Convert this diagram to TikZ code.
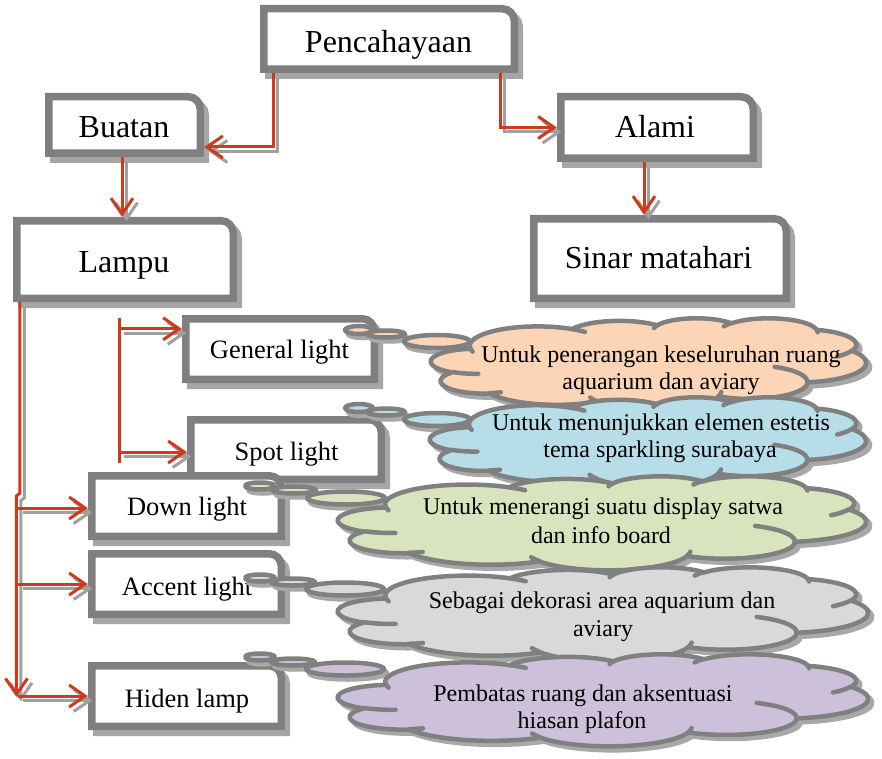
\documentclass[tikz,border=0pt]{standalone}
\usepackage{fontspec}
\setmainfont{Liberation Serif}
\usetikzlibrary{arrows.meta}

\definecolor{linkred}{HTML}{CF3A1B}
\definecolor{boxgray}{HTML}{7F7F7F}
\definecolor{boxshade}{HTML}{A6A6A6}
\definecolor{linkshade}{HTML}{A0A0A0}
\definecolor{cloudline}{HTML}{808080}
\definecolor{cloudshade}{HTML}{A8A8A8}
\definecolor{peach}{HTML}{FBD5B5}
\definecolor{skyblue}{HTML}{B7DEE8}
\definecolor{leaf}{HTML}{D7E4BD}
\definecolor{silver}{HTML}{D9D9D9}
\definecolor{lilac}{HTML}{CCC0DA}

% One elliptic arc of the cloud outline: radii and the start/sweep angles
% (measured as ray angles) are turned into a style holding parametric angles.
\newcommand\mkcloudarc[5]{%
  \pgfmathparse{atan2((#2)*sin(#4),(#3)*cos(#4))}\let\cldA\pgfmathresult
  \pgfmathparse{atan2((#2)*sin((#4)+(#5)),(#3)*cos((#4)+(#5)))}\let\cldB\pgfmathresult
  \pgfmathparse{(\cldA)+mod((\cldB)-(\cldA)+720,360)}\let\cldB\pgfmathresult
  \edef\cloudtmp{\noexpand\tikzset{#1/.style={start angle=\cldA, end angle=\cldB, x radius=#2, y radius=#3}}}%
  \cloudtmp}

\mkcloudarc{cloud arc 1}{6.753}{9.190}{-190.4875}{123.7805}
\mkcloudarc{cloud arc 2}{5.333}{7.267}{-144.1024}{89.9452}
\mkcloudarc{cloud arc 3}{4.365}{5.945}{-145.8079}{99.7230}
\mkcloudarc{cloud arc 4}{4.857}{6.595}{-130.9861}{117.2417}
\mkcloudarc{cloud arc 5}{5.333}{7.273}{-78.7089}{109.0269}
\mkcloudarc{cloud arc 6}{6.775}{9.220}{-46.2673}{130.2690}
\mkcloudarc{cloud arc 7}{5.785}{7.867}{0.6250}{114.0333}
\mkcloudarc{cloud arc 8}{6.752}{9.215}{22.4516}{115.1726}
\mkcloudarc{cloud arc 9}{7.720}{10.543}{66.2426}{75.7110}
\mkcloudarc{cloud arc 10}{4.360}{5.918}{-274.9421}{146.7356}
\mkcloudarc{cloud arc 11}{4.345}{5.945}{-246.8285}{152.5189}

\mkcloudarc{cloud vein 1}{4.345}{5.945}{86.7420}{26.4295}
\mkcloudarc{cloud vein 2}{4.360}{5.918}{73.6105}{11.4475}
\mkcloudarc{cloud vein 3}{6.752}{9.215}{137.6242}{14.0811}
\mkcloudarc{cloud vein 4}{6.752}{9.215}{6.4533}{15.9984}
\mkcloudarc{cloud vein 5}{5.785}{7.867}{-70.2924}{70.9174}
\mkcloudarc{cloud vein 6}{5.333}{7.273}{30.3180}{27.7515}
\mkcloudarc{cloud vein 7}{4.857}{6.595}{-13.7443}{14.8589}
\mkcloudarc{cloud vein 8}{4.857}{6.595}{-149.1815}{18.1954}
\mkcloudarc{cloud vein 9}{4.365}{5.945}{-163.4943}{19.0033}
\mkcloudarc{cloud vein 10}{6.753}{9.190}{-66.7070}{12.3194}
\mkcloudarc{cloud vein 11}{6.753}{9.190}{157.6544}{11.8582}

% cloud outline and inner strokes, in a 43.2 x 43.2 frame
\def\cloudoutline{(3.900,14.370) arc[cloud arc 1] arc[cloud arc 2] arc[cloud arc 3]
  arc[cloud arc 4] arc[cloud arc 5] arc[cloud arc 6] arc[cloud arc 7] arc[cloud arc 8]
  arc[cloud arc 9] arc[cloud arc 10] arc[cloud arc 11] -- cycle}
\def\cloudveins{(4.693,26.177) arc[cloud vein 1] (6.928,34.899) arc[cloud vein 2]
  (16.478,39.090) arc[cloud vein 3] (28.827,34.751) arc[cloud vein 4]
  (34.129,22.954) arc[cloud vein 5] (41.798,15.354) arc[cloud vein 6]
  (38.324,5.426) arc[cloud vein 7] (29.078,3.952) arc[cloud vein 8]
  (22.141,4.720) arc[cloud vein 9] (14.000,5.192) arc[cloud vein 10]
  (4.127,15.789) arc[cloud vein 11]}

\tikzset{
  boxframe/.style={fill=white, draw=boxgray, line width=7.5pt},
  boxfill/.style={fill=boxshade, draw=boxshade, line width=7.5pt},
  boxspot/.style={rectangle, inner sep=0pt, draw=none},
  link/.style={draw=linkred, line width=3pt},
  tip/.style={-{Straight Barb[length=16pt,width=22pt]}},
  cloudbody/.style={draw=cloudline, line width=4.5pt, line join=round},
  cloudshadow/.style={fill=cloudshade, draw=cloudshade, line width=4.5pt, line join=round},
  cloudvein/.style={draw=cloudline, line width=4.5pt, line cap=round},
  bigfont/.style={font=\fontsize{32}{38}\selectfont, inner sep=0pt},
  midfont/.style={font=\fontsize{26.5}{31}\selectfont, inner sep=0pt},
  cloudfont/.style={font=\fontsize{24}{27}\selectfont, inner sep=0pt},
}

% box with a rounded top-right corner and a drop shadow; #2..#5 = outer edges
\newcommand\roundbox[5]{%
  \begin{scope}[shift={(5,6)}]
    \path[boxfill] (#2+3.75,#5-3.75) -- (#2+3.75,#3+3.75) -- (#4-15.75,#3+3.75)
      arc[start angle=90,end angle=0,radius=12pt] -- (#4-3.75,#5-3.75) -- cycle;
  \end{scope}
  \path[boxframe] (#2+3.75,#5-3.75) -- (#2+3.75,#3+3.75) -- (#4-15.75,#3+3.75)
    arc[start angle=90,end angle=0,radius=12pt] -- (#4-3.75,#5-3.75) -- cycle;
  \node[boxspot, minimum width={#4-#2}, minimum height={#5-#3}] (#1) at ({(#2+#4)/2},{(#3+#5)/2}) {};}

% thought cloud: #1,#2 top-left corner, #3,#4 size, #5 fill
\newcommand\drawcloud[5]{%
  \pgfmathsetmacro\cloudsx{(#3)/43.2}%
  \pgfmathsetmacro\cloudsy{(#4)/43.2}%
  \begin{scope}[shift={(#1+4,#2+4)}, x=\cloudsx pt, y=-\cloudsy pt]
    \path[cloudshadow] \cloudoutline;
  \end{scope}
  \begin{scope}[shift={(#1,#2)}, x=\cloudsx pt, y=-\cloudsy pt]
    \path[cloudbody, fill=#5] \cloudoutline;
    \path[cloudvein] \cloudveins;
  \end{scope}}

% one bubble of a cloud's tail
\newcommand\bubble[5]{%
  \path[cloudshadow] (#1+3,#2+4) ellipse[x radius=#3, y radius=#4];
  \path[cloudbody, fill=#5] (#1,#2) ellipse[x radius=#3, y radius=#4];}

% all connectors, drawn in colour #1
\newcommand\linkset[1]{%
  \draw[link, draw=#1, tip] ([xshift=13.5pt]pen.south west) |- (buatin);
  \draw[link, draw=#1, tip] ([xshift=-18pt]pen.south east) |- (alam.west);
  \draw[link, draw=#1, tip] ([xshift=-2.5pt]buat.south) -- ([xshift=-2.5pt]buat.south |- lamp.north);
  \draw[link, draw=#1, tip] ([xshift=-13pt]alam.south) -- ([xshift=-13pt]alam.south |- sinar.north);
  \draw[link, draw=#1, tip] ([xshift=7pt]lamp.south west) -- ++(0,191) -- ++(-3.5,3) -- (trunkend);
  \draw[link, draw=#1, tip] (trunk |- downin) -- (downin);
  \draw[link, draw=#1, tip] (trunk |- acc.west) -- (acc.west);
  \draw[link, draw=#1, tip] (trunk |- hid.west) -- (hid.west);
  \draw[link, draw=#1, tip] (brtop |- genin) -- (genin);
  \draw[link, draw=#1, tip] (brtop |- spotin) -- (spotin);}

\begin{document}
\begin{tikzpicture}[x=1pt, y=-1pt]
  \fill[white] (0,0) rectangle (882,759);
  \useasboundingbox (0,0) rectangle (882,759);

  % boxes
  \roundbox{pen}{260}{5}{518}{73}
  \roundbox{buat}{45}{93}{204}{157}
  \roundbox{alam}{557}{93}{757}{162}
  \roundbox{lamp}{13}{217}{237}{302}
  \roundbox{sinar}{530}{215}{790}{302}
  \roundbox{gen}{182}{315}{378}{383}
  \roundbox{spot}{187}{416}{385}{483}
  \roundbox{down}{88}{472}{285}{540}
  \roundbox{acc}{88}{550}{285}{618}
  \roundbox{hid}{88}{662}{285}{730}

  % box labels
  \node[bigfont, anchor=base] (pentext) at (388.5,53) {Pencahayaan};
  \node[bigfont, anchor=base] (buattext) at (124,138) {Buatan};
  \node[bigfont, anchor=base] (lamptext) at (124,272) {Lampu};
  \node[bigfont, anchor=base] (alamtext) at (655,138) {Alami};
  \node[bigfont, anchor=base] (sinartext) at (658.5,268) {Sinar matahari};
  \node[midfont, anchor=base] (gentext) at (279.5,358) {General light};
  \node[midfont, anchor=base] (spottext) at (286.5,460) {Spot light};
  \node[midfont, anchor=base] (downtext) at (187,515) {Down light};
  \node[midfont, anchor=base] (acctext) at (187,595) {Accent light};
  \node[midfont, anchor=base] (hidtext) at (187,707) {Hiden lamp};

  % connector anchors
  \coordinate (buatin) at ([yshift=-22pt]buat.east);
  \coordinate (trunk) at (18,0);
  \coordinate (trunkend) at (16.5,697);
  \coordinate (downin) at ([yshift=-2pt]down.west);
  \coordinate (brtop) at (119,318);
  \coordinate (brbot) at (119,463);
  \coordinate (genin) at ([yshift=-14pt]gen.north west);
  \coordinate (spotin) at ([yshift=-2.5pt]spot.west);

  % connectors: grey offset copy, then the red lines
  \begin{scope}[transform canvas={shift={(4.5,4.5)}}]
    \linkset{linkshade}
  \end{scope}
  \draw[link] (brtop) -- (brbot);
  \linkset{linkred}

  % clouds with their tails
  \bubble{359}{330}{14}{4}{peach}
  \bubble{386}{334}{19}{3.5}{peach}
  \bubble{437}{341.5}{33}{6.5}{peach}
  \drawcloud{431}{318}{435}{92}{peach}

  \bubble{359}{408}{14}{4}{skyblue}
  \bubble{386}{412}{19}{3.5}{skyblue}
  \bubble{437}{419.5}{33}{6.5}{skyblue}
  \drawcloud{430}{397}{436}{90}{skyblue}

  \bubble{260}{486}{15}{3.5}{leaf}
  \bubble{294}{490}{22}{3.5}{leaf}
  \bubble{346}{498}{39}{6.5}{leaf}
  \drawcloud{338}{476}{528}{94}{leaf}

  \bubble{260}{578}{15}{3.5}{silver}
  \bubble{293}{582}{22}{3.5}{silver}
  \bubble{345}{589}{39}{6.5}{silver}
  \drawcloud{338}{567}{530}{94}{silver}

  \bubble{260}{657}{15}{3.5}{lilac}
  \bubble{293}{662}{22}{3.5}{lilac}
  \bubble{345}{669}{39}{6.5}{lilac}
  \drawcloud{338}{654}{530}{92}{lilac}

  % cloud texts
  \node[cloudfont, anchor=base] (c1a) at (661,362.5) {Untuk penerangan keseluruhan ruang};
  \node[cloudfont, anchor=base] (c1b) at (661,389.5) {aquarium dan aviary};
  \node[cloudfont, anchor=base] (c2a) at (661,430) {Untuk menunjukkan elemen estetis};
  \node[cloudfont, anchor=base] (c2b) at (660,457) {tema sparkling surabaya};
  \node[cloudfont, anchor=base] (c3a) at (603,514) {Untuk menerangi suatu display satwa};
  \node[cloudfont, anchor=base] (c3b) at (601,543) {dan info board};
  \node[cloudfont, anchor=base] (c4a) at (602,608) {Sebagai dekorasi area aquarium dan};
  \node[cloudfont, anchor=base] (c4b) at (603,636) {aviary};
  \node[cloudfont, anchor=base] (c5a) at (583,701.5) {Pembatas ruang dan aksentuasi};
  \node[cloudfont, anchor=base] (c5b) at (582,728.5) {hiasan plafon};
\end{tikzpicture}
\end{document}
